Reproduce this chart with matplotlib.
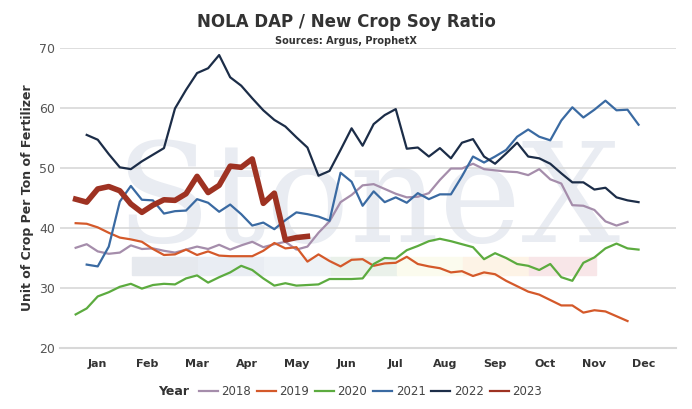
#Relacion NOLA DAP / soya nueva cosecha por semana

import numpy as np
import matplotlib.pyplot as plt
from matplotlib.patches import Rectangle

# Datos semanales (unidades de cultivo por tonelada de fertilizante)
r2018 = [36.7, 37.3, 36.1, 35.7, 35.9, 37.1, 36.5, 36.6, 36.2, 35.9, 36.4, 36.9, 36.5, 37.2, 36.4,
         37.1, 37.7, 36.8, 37.3, 37.7, 36.4, 36.9, 39.2, 41.1, 44.3, 45.5, 47.1, 47.3, 46.5,
         45.7, 45.1, 45.2, 45.8, 48.0, 49.9, 49.9, 50.7, 49.8, 49.6, 49.4, 49.3, 48.8, 49.8,
         48.1, 47.4, 43.8, 43.7, 43.0, 41.1, 40.4, 41.0]
r2019 = [40.8, 40.7, 40.1, 39.2, 38.4, 38.1, 37.7, 36.5, 35.5, 35.6, 36.4, 35.5, 36.1, 35.4, 35.3,
         35.3, 35.3, 36.2, 37.5, 36.6, 36.8, 34.4, 35.6, 34.5, 33.6, 34.7, 34.8, 33.7, 34.1,
         34.2, 35.2, 34.0, 33.6, 33.3, 32.6, 32.8, 32.0, 32.6, 32.3, 31.2, 30.3, 29.4, 28.9,
         28.0, 27.1, 27.1, 25.9, 26.3, 26.1, 25.3, 24.5]
r2020 = [25.6, 26.6, 28.6, 29.3, 30.2, 30.7, 29.9, 30.5, 30.7, 30.6, 31.6, 32.1, 30.9, 31.8, 32.6,
         33.7, 33.0, 31.6, 30.4, 30.8, 30.4, 30.5, 30.6, 31.5, 31.5, 31.5, 31.6, 34.0, 35.0,
         34.9, 36.3, 37.0, 37.8, 38.2, 37.8, 37.3, 36.8, 34.8, 35.8, 35.0, 34.0, 33.7, 33.0,
         34.0, 31.8, 31.2, 34.2, 35.1, 36.6, 37.4, 36.6, 36.4]
r2021 = [33.9, 33.6, 36.9, 44.4, 47.0, 44.7, 44.6, 42.4, 42.8, 42.9, 44.8, 44.2, 42.7, 43.9,
         42.3, 40.4, 40.9, 39.8, 41.3, 42.6, 42.3, 41.9, 41.2, 49.2, 47.7, 43.7, 46.1, 44.3,
         45.1, 44.2, 45.8, 44.8, 45.6, 45.6, 48.6, 51.9, 50.9, 51.9, 53.0, 55.2, 56.4, 55.2,
         54.6, 57.9, 60.1, 58.4, 59.7, 61.2, 59.6, 59.7, 57.2]
r2022 = [55.5, 54.7, 52.3, 50.1, 49.8, 51.1, 52.2, 53.3, 59.9, 63.0, 65.8, 66.6, 68.8, 65.1,
         63.7, 61.6, 59.6, 58.0, 56.9, 55.1, 53.4, 48.7, 49.5, 53.0, 56.6, 53.7, 57.3, 58.8,
         59.8, 53.2, 53.4, 51.9, 53.3, 51.6, 54.2, 54.8, 51.9, 50.7, 52.4, 54.2, 51.9, 51.6,
         50.7, 49.1, 47.6, 47.6, 46.4, 46.7, 45.1, 44.6, 44.3]
r2023 = [44.8, 44.3, 46.5, 46.9, 46.2, 44.0, 42.6, 43.8, 44.7, 44.6, 45.7, 48.6, 45.9, 47.1,
         50.3, 50.1, 51.5, 44.1, 45.8, 38.0, 38.4, 38.6]

series = [(np.arange(1, 52), r2018, '2018', '#a58dab', 1.6),
          (np.arange(1, 52), r2019, '2019', '#d4592a', 1.6),
          (np.arange(1, 53), r2020, '2020', '#5cab3f', 1.6),
          (np.arange(2, 53), r2021, '2021', '#3a6aa2', 1.6),
          (np.arange(2, 53), r2022, '2022', '#1c2d48', 1.6),
          (np.arange(1, 23), r2023, '2023', '#9e3222', 4.0)]

meses = ['Jan', 'Feb', 'Mar', 'Apr', 'May', 'Jun', 'Jul', 'Aug', 'Sep', 'Oct', 'Nov', 'Dec']
pos_meses = [3.0 + 4.5 * i for i in range(12)]

fig = plt.figure(figsize=(6.92, 4.09), dpi=100)
ax = fig.add_axes([0.087, 0.149, 0.89, 0.734])

# marca de agua
ax.text(27.5, 44, 'StoneX', fontsize=100, family='DejaVu Serif', color='#e9ecf2',
        ha='center', va='center', zorder=0)
colores_banda = ['#e6e9ee', '#e9edf3', '#eef2f6', '#eaf1ea', '#fbfbee', '#fdf3e6', '#f8e6e8']
for i, c in enumerate(colores_banda):
    ax.add_patch(Rectangle((6.1 + 6 * i, 32.2), 6, 3, color=c, zorder=0))

for x, y, lab, col, lw in series:
    plt.plot(x, y, color=col, lw=lw, label=lab, zorder=3)

plt.xlim(-0.4, 55.4)
plt.ylim(20, 70)
plt.yticks([20, 30, 40, 50, 60, 70])
plt.xticks(pos_meses, meses, fontsize=8, fontweight='bold', color='#333333')
plt.grid(axis='y', color='#d8d8d8', lw=1.2)
ax.tick_params(axis='y', labelsize=9, colors='#555555', length=0)
ax.tick_params(axis='x', length=0, pad=8)
for s in ['top', 'right', 'left']:
    ax.spines[s].set_visible(False)
ax.spines['bottom'].set_color('#d8d8d8')
ax.spines['bottom'].set_linewidth(1.5)
ax.set_axisbelow(True)

plt.ylabel('Unit of Crop Per Ton of Fertilizer', fontsize=9, fontweight='bold', color='#333333')
fig.text(0.5, 0.935, 'NOLA DAP / New Crop Soy Ratio', ha='center', fontsize=12,
         fontweight='bold', color='#333333')
fig.text(0.5, 0.893, 'Sources: Argus, ProphetX', ha='center', fontsize=7,
         fontweight='bold', color='#333333')

fig.text(0.228, 0.042, 'Year', fontsize=9, fontweight='bold', color='#333333', va='center')
leg = fig.legend(loc='center left', bbox_to_anchor=(0.272, 0.042), ncol=6, frameon=False,
                 fontsize=8.5, handlelength=1.6, handletextpad=0.3, columnspacing=0.5,
                 labelcolor='#444444')
for h in leg.legend_handles:
    h.set_linewidth(1.6)

plt.savefig('out.png', dpi=100)
